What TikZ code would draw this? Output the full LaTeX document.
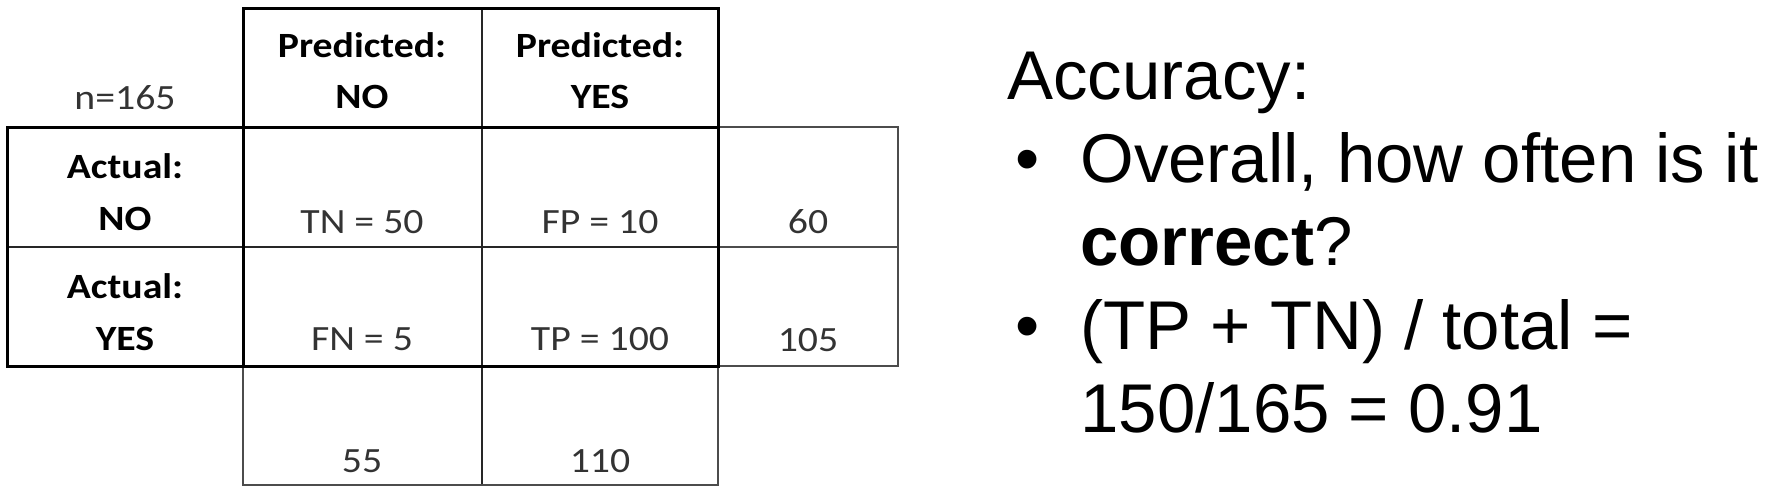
\documentclass[tikz,border=0pt]{standalone}
\usepackage{fontspec}
\setmainfont{Liberation Sans}
\newfontfamily\calib[FakeStretch=1.12]{Carlito}
\begin{document}
\begin{tikzpicture}[x=0.5pt,y=0.5pt,yscale=-1,
  thickline/.style={line width=1.5pt, color=black},
  thinline/.style={line width=0.8pt, color=black!70},
  midline/.style={line width=1pt, color=black!85},
  cell/.style={anchor=base, inner sep=0pt, text=black!80, font=\calib\fontsize{17.75}{20}\selectfont},
  head/.style={anchor=base, inner sep=0pt, text=black, font=\calib\bfseries\fontsize{17.75}{20}\selectfont},
  body/.style={anchor=base west, inner sep=0pt, font=\fontsize{34.5}{41}\selectfont},
  dot/.style={anchor=base, inner sep=0pt, font=\fontsize{34.5}{41}\selectfont}]
\path[use as bounding box] (0,0) rectangle (1779,489);

%Straight Lines: thin grid
\draw[midline] (482,8) -- (482,485) ;
\draw[midline] (7,247) -- (718,247) ;
\draw[thinline] (718,247) -- (898,247) ;
\draw[thinline] (718,127) -- (898,127) -- (898,366) -- (718,366) ;
\draw[thinline] (243,366) -- (243,485) -- (718,485) -- (718,366) ;
%Straight Lines: thick borders
\draw[thickline] (243,127) -- (243,8) -- (718,8) -- (718,366) ;
\draw[thickline] (7,127) rectangle (718,366) ;
\draw[thickline] (243,127) -- (243,366) ;

% Text Node
\node[cell] (total) at (125,109) {n=165};
% Text Node
\node[head] (predno) at (362,57) {Predicted:};
\node[head] (prednolbl) at (362,108) {NO};
% Text Node
\node[head] (predyes) at (600,57) {Predicted:};
\node[head] (predyeslbl) at (600,108) {YES};
% Text Node
\node[head] (actno) at (125,178) {Actual:};
\node[head] (actnolbl) at (125,230) {NO};
% Text Node
\node[head] (actyes) at (125,298) {Actual:};
\node[head] (actyeslbl) at (125,350) {YES};
% Text Node
\node[cell] (tn) at (362,233) {TN = 50};
\node[cell] (fp) at (600,233) {FP = 10};
\node[cell] (rowno) at (808,233) {60};
% Text Node
\node[cell] (fn) at (362,350) {FN = 5};
\node[cell] (tp) at (600,350) {TP = 100};
\node[cell] (rowyes) at (808,351) {105};
% Text Node
\node[cell] (colno) at (362,472) {55};
\node[cell] (colyes) at (600,472) {110};

% Text Node
\node[body] (acc) at (1007,99) {Accuracy:};
\node[dot] (dotone) at (1028,182) {\textbullet};
\node[body] (askone) at (1080,182) {Overall, how often is it};
\node[body] (asktwo) at (1080,265) {\textbf{correct}?};
\node[dot] (dottwo) at (1028,349) {\textbullet};
\node[body] (calcone) at (1080,349) {(TP + TN) / total =};
\node[body] (calctwo) at (1080,432) {150/165 = 0.91};

\end{tikzpicture}
\end{document}
